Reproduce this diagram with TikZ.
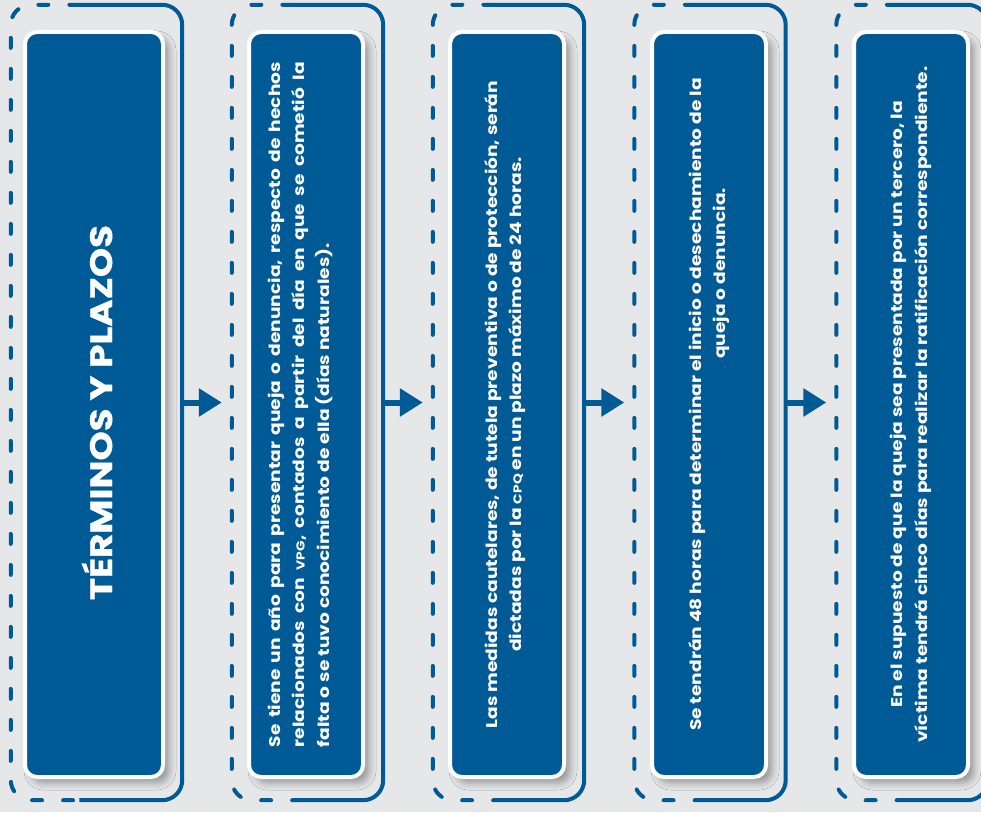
\documentclass[tikz,border=0pt]{standalone}
\usepackage{fontspec}
\setmainfont{Poppins}[FakeStretch=1.2]
\usetikzlibrary{arrows.meta,calc,shadows.blur}

\definecolor{azul}{RGB}{0,90,150}
\definecolor{fondo}{RGB}{230,231,232}

\tikzset{
    marco/.style={minimum height=795pt, inner sep=0pt},
    caja/.style={fill=azul, draw=white, line width=4pt, rounded corners=12pt,
        minimum height=745pt, inner sep=0pt,
        blur shadow={shadow xshift=6pt, shadow yshift=-6pt, shadow opacity=35, shadow blur radius=7pt}},
    texto/.style={rotate=90, text=white, font=\bfseries\fontsize{15.5}{24.5}\selectfont},
    flecha/.style={azul, line width=6pt, -{Triangle[length=23pt,width=27pt]}},
    trazo/.style={azul, line width=4pt, rounded corners=20pt},
    guion/.style={trazo, line cap=round, dash pattern=on 10pt off 21pt}
}

% acronyms in small capitals
\newcommand{\siglas}[1]{{\fontsize{11.5}{24.5}\selectfont #1}}

% frame: dashed on the left, solid on the right
\newcommand{\marcopaso}[1]{%
    \draw[guion] ($(#1.north west)!0.4!(#1.north east)$) -- (#1.north west)
        -- (#1.south west) -- ($(#1.south west)!0.4!(#1.south east)$);
    \draw[trazo] ($(#1.north west)!0.4!(#1.north east)$) -- (#1.north east)
        -- (#1.south east) -- ($(#1.south west)!0.4!(#1.south east)$);
}

\begin{document}
\begin{tikzpicture}[x=1pt,y=1pt]
    % Background
    \fill[fondo] (0,0) rectangle (981,812);
    \useasboundingbox (0,0) rectangle (981,812);

    % Frames
    \node[marco, minimum width=171pt] (f1) at (96.5,409.5) {};
    \node[marco, minimum width=151pt] (f2) at (307.5,409.5) {};
    \node[marco, minimum width=151pt] (f3) at (508.5,409.5) {};
    \node[marco, minimum width=151pt] (f4) at (710,409.5) {};
    \node[marco, minimum width=151pt] (f5) at (912,409.5) {};
    \marcopaso{f1}
    \marcopaso{f2}
    \marcopaso{f3}
    \marcopaso{f4}
    \marcopaso{f5}

    % Blue boxes
    \node[caja, minimum width=138pt] (b1) at (94,407.5) {};
    \node[caja, minimum width=114pt] (b2) at (306,407.5) {};
    \node[caja, minimum width=114pt] (b3) at (507,407.5) {};
    \node[caja, minimum width=114pt] (b4) at (709,407.5) {};
    \node[caja, minimum width=114pt] (b5) at (911,407.5) {};

    % Texts
    \node[texto, font=\bfseries\fontsize{31}{34}\selectfont\addfontfeature{FakeBold=1.2}] (t1)
        at ([xshift=3pt,yshift=-8pt]b1.center) {TÉRMINOS Y PLAZOS};
    \node[texto, text width=685pt, align=justify] (t2) at ([xshift=-6pt]b2.center)
        {Se tiene un año para presentar queja o denuncia, respecto de hechos\linebreak
         relacionados con \siglas{VPG}, contados a partir del día en que se cometió la\linebreak
         falta o se tuvo conocimiento de ella (días naturales).};
    \node[texto, align=center] (t3) at ([xshift=-2pt]b3.center)
        {Las medidas cautelares, de tutela preventiva o de protección, serán\\
         dictadas por la \siglas{CPQ} en un plazo máximo de 24 horas.};
    \node[texto, align=center] (t4) at (b4.center)
        {Se tendrán 48 horas para determinar el inicio o desechamiento de la\\
         \hspace*{262pt}queja o denuncia.};
    \node[texto, align=center] (t5) at (b5.center)
        {En el supuesto de que la queja sea presentada por un tercero, la\\
         víctima tendrá cinco días para realizar la ratificación correspondiente.};

    % Arrows
    \draw[flecha] (f1.east) -- ([xshift=-10pt]f2.west);
    \draw[flecha] (f2.east) -- ([xshift=-10pt]f3.west);
    \draw[flecha] (f3.east) -- ([xshift=-10pt]f4.west);
    \draw[flecha] (f4.east) -- ([xshift=-10pt]f5.west);
\end{tikzpicture}
\end{document}
